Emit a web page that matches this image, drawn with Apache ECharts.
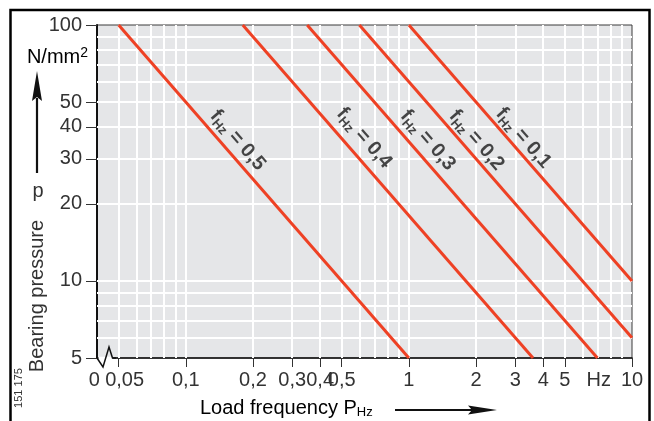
<!DOCTYPE html>
<html><head><meta charset="utf-8">
<script src="https://cdn.jsdelivr.net/npm/echarts@6.0.0/dist/echarts.min.js"></script>
<style>html,body{margin:0;padding:0;background:#fff}#c{width:654px;height:421px}</style>
</head><body><div id="c"></div>
<script>
// ---- data ----
const xLabelValues = [0.0401, 0.05, 0.1, 0.2, 0.3, 0.4, 0.5, 1, 2, 3, 4, 5, 7.1, 10];
const xLabelTexts  = ['0', '0,05', '0,1', '0,2', '0,3', '0,4', '0,5', '1', '2', '3', '4', '5', 'Hz', '10'];
const xTickValues  = [0.05, 0.1, 0.2, 0.3, 0.4, 0.5, 1, 2, 3, 4, 5, 10];
const xGridValues  = [0.05, 0.06, 0.07, 0.08, 0.09, 0.1, 0.2, 0.3, 0.4, 0.5, 0.6, 0.7, 0.8, 0.9, 1, 2, 3, 4, 5, 6, 7, 8, 9];
const yLabelValues = [5, 10, 20, 30, 40, 50, 100];
const yGridValues  = [6, 7, 8, 9, 10, 20, 30, 40, 50, 60, 70, 80, 90];
const curveNames   = ['0,5', '0,4', '0,3', '0,2', '0,1'];
const curve05 = [[0.05, 100], [1, 5]];
const curve04 = [[0.18, 100], [3.6, 5]];
const curve03 = [[0.35, 100], [7, 5]];
const curve02 = [[0.6, 100], [10, 6]];
const curve01 = [[1, 100], [10, 10]];
const curves = [curve05, curve04, curve03, curve02, curve01];
const curveLabelPos = [[0.171, 35.5], [0.63, 36.2], [1.216, 35.5], [2.01, 35.5], [3.26, 36.2]];

const FONT = '"Liberation Sans", Arial, Helvetica, sans-serif';
const RED = '#ee4124';
const TXT = '#333333';

function findLabel(val) {
  for (let i = 0; i < xLabelValues.length; i++) {
    if (Math.abs(Math.log10(val) - Math.log10(xLabelValues[i])) < 0.01) {
      const t = xLabelTexts[i];
      if (i === 0) return '{l|' + t + '}';
      if (i === 1) return '{r|' + t + '}';
      return t;
    }
  }
  return '';
}

const chart = echarts.init(document.getElementById('c'), null, {renderer: 'canvas'});

const series = [];
series.push({
  type: 'line', name: 'grid', data: [], silent: true, z: 1,
  markLine: {
    silent: true, z: 1, symbol: ['none', 'none'], animation: false,
    label: {show: false}, emphasis: {disabled: true},
    lineStyle: {color: '#ffffff', width: 2, type: 'solid'},
    data: xGridValues.map(v => ({xAxis: v})).concat(yGridValues.map(v => ({yAxis: v})))
  }
});
curves.forEach((c, i) => {
  series.push({
    type: 'line', name: curveNames[i], data: c, symbol: 'none', z: 3, silent: true,
    lineStyle: {color: RED, width: 3}
  });
});
series.push({
  type: 'scatter', name: 'labels', symbolSize: 0, z: 4, silent: true,
  data: curveLabelPos.map((p, i) => ({value: p, name: curveNames[i]})),
  label: {
    show: true, position: 'inside', rotate: -49, align: 'center', verticalAlign: 'middle',
    formatter: p => '{f|f}{s|Hz}{f| = ' + p.name + '}',
    rich: {
      f: {fontFamily: FONT, fontSize: 20, fontWeight: 'bold', color: '#1a1a1a', lineHeight: 24},
      s: {fontFamily: FONT, fontSize: 13, fontWeight: 'bold', color: '#1a1a1a', lineHeight: 13, verticalAlign: 'bottom'}
    }
  }
});

const option = {
  animation: false,
  backgroundColor: '#ffffff',
  grid: {left: 97, top: 25, right: 22, bottom: 63, show: true, backgroundColor: '#e5e6e8', borderColor: '#3a3a3a', borderWidth: 1, containLabel: false},
  xAxis: {
    type: 'log', logBase: 10, min: 0.04, max: 10,
    axisLine: {show: true, lineStyle: {color: '#111', width: 1.5}},
    axisTick: {show: true, length: 9, customValues: xTickValues, lineStyle: {color: '#333', width: 1}},
    axisLabel: {show: true, customValues: xLabelValues, margin: 12, fontSize: 20, fontFamily: FONT, color: TXT,
      formatter: findLabel, showMinLabel: true, showMaxLabel: true, hideOverlap: false,
      rich: {
        l: {fontSize: 20, fontFamily: FONT, color: TXT, padding: [0, 6, 0, 0]},
        r: {fontSize: 20, fontFamily: FONT, color: TXT, padding: [0, 0, 0, 12]}
      }},
    splitLine: {show: false}, minorSplitLine: {show: false}
  },
  yAxis: {
    type: 'log', logBase: 10, min: 5, max: 100,
    axisLine: {show: true, lineStyle: {color: '#111', width: 2}},
    axisTick: {show: true, length: 11, customValues: yLabelValues, lineStyle: {color: '#333', width: 1}},
    axisLabel: {show: true, customValues: yLabelValues, margin: 15, fontSize: 20, fontFamily: FONT, color: TXT,
      showMinLabel: true, showMaxLabel: true, hideOverlap: false,
      formatter: v => String(Math.round(v))},
    splitLine: {show: false}, minorSplitLine: {show: false}
  },
  series: series,
  graphic: [
    {type: 'rect', z: 100, silent: true, shape: {x: 10.5, y: 10, width: 639, height: 440}, style: {fill: 'none', stroke: '#000', lineWidth: 2.5}},
    {type: 'rect', z: 100, silent: true, shape: {x: 98.5, y: 356.5, width: 14, height: 3.5}, style: {fill: '#fff'}},
    {type: 'rect', z: 100, silent: true, shape: {x: 98.5, y: 350, width: 14, height: 6.5}, style: {fill: '#e5e6e8'}},
    {type: 'polyline', z: 101, silent: true, shape: {points: [[97, 358], [103, 367], [109, 347], [112.5, 358], [116, 358]]}, style: {stroke: '#111', lineWidth: 1.5, fill: 'none'}},
    {type: 'text', z: 100, silent: true, style: {text: '{a|N/mm}{b|2}', x: 88, y: 57, align: 'right', verticalAlign: 'middle',
      rich: {a: {fontFamily: FONT, fontSize: 20, color: TXT, lineHeight: 22}, b: {fontFamily: FONT, fontSize: 14, color: TXT, lineHeight: 14, verticalAlign: 'top'}}}},
    {type: 'line', z: 100, silent: true, shape: {x1: 37, y1: 98, x2: 37, y2: 173}, style: {stroke: '#111', lineWidth: 2.2}},
    {type: 'polygon', z: 100, silent: true, shape: {points: [[37, 71], [32, 101], [37, 97], [42, 101]]}, style: {fill: '#111'}},
    {type: 'text', z: 100, silent: true, style: {text: 'p', x: 38, y: 191, align: 'center', verticalAlign: 'middle', fontFamily: FONT, fontSize: 20, fill: TXT}},
    {type: 'text', z: 100, silent: true, x: 37, y: 296, rotation: Math.PI / 2, style: {text: 'Bearing pressure', x: 0, y: 0, align: 'center', verticalAlign: 'middle', fontFamily: FONT, fontSize: 20, fill: TXT}},
    {type: 'text', z: 100, silent: true, x: 19, y: 388, rotation: Math.PI / 2, style: {text: '151 175', x: 0, y: 0, align: 'center', verticalAlign: 'middle', fontFamily: FONT, fontSize: 11, fill: TXT}},
    {type: 'text', z: 100, silent: true, style: {text: '{a|Load frequency P}{s|Hz}', x: 200, y: 408, align: 'left', verticalAlign: 'middle',
      rich: {a: {fontFamily: FONT, fontSize: 20, color: TXT, lineHeight: 22}, s: {fontFamily: FONT, fontSize: 13, color: TXT, lineHeight: 13, verticalAlign: 'bottom'}}}},
    {type: 'line', z: 100, silent: true, shape: {x1: 395, y1: 410, x2: 475, y2: 410}, style: {stroke: '#111', lineWidth: 2.2}},
    {type: 'polygon', z: 100, silent: true, shape: {points: [[497, 410], [468, 405.5], [472, 410], [468, 414.5]]}, style: {fill: '#111'}}
  ]
};
chart.setOption(option);
</script>
</body></html>
